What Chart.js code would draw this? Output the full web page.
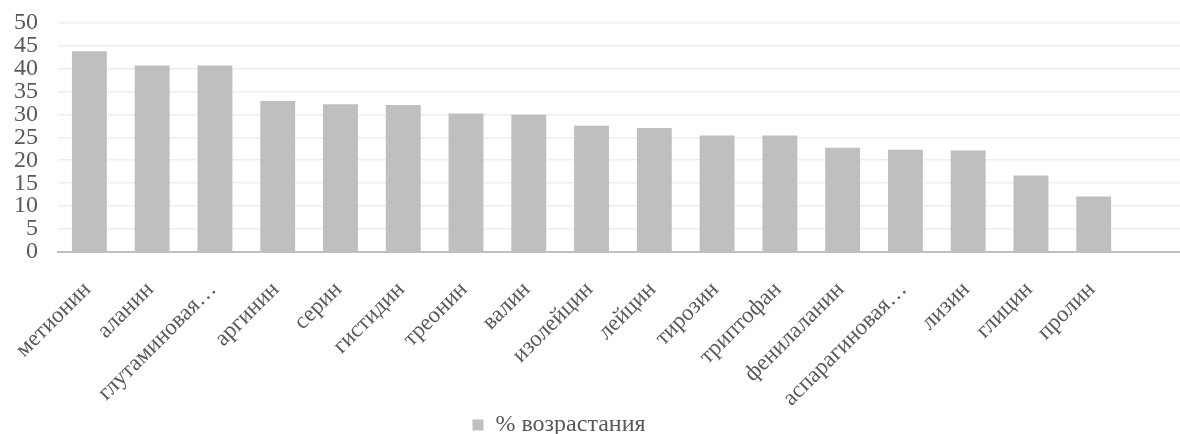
<!DOCTYPE html>
<html>
<head>
<meta charset="utf-8">
<script src="https://cdn.jsdelivr.net/npm/chart.js@4/dist/chart.umd.min.js"></script>
<style>
    html, body { margin: 0; padding: 0; background: #ffffff; overflow: hidden; }
    #chartBox { width: 1198px; height: 478px; margin-top: -12px; margin-left: -6px; }
</style>
</head>
<body>
<div id="chartBox"><canvas id="myChart"></canvas></div>
<script>
var names = ["метионин", "аланин", "глутаминовая…", "аргинин", "серин", "гистидин", "треонин", "валин",
    "изолейцин", "лейцин", "тирозин", "триптофан", "фенилаланин", "аспарагиновая…", "лизин", "глицин", "пролин", ""];
var growth = [43.7, 40.6, 40.6, 32.9, 32.2, 32.0, 30.2, 29.9, 27.5, 27.0, 25.4, 25.4, 22.7, 22.3, 22.1, 16.7, 12.1];
var yTicks = [0, 5, 10, 15, 20, 25, 30, 35, 40, 45, 50];

var serif = "'Liberation Serif', 'DejaVu Serif', serif";
var textGray = '#595959';

// legend: a bit left of centre and tucked up under the rotated labels
const legendPlace = {
    id: 'legendPlace',
    afterLayout(chart) {
        var lg = chart.legend;
        lg.left -= 34;
        lg.right -= 34;
        lg.top = 437 - 16;
        lg.bottom = lg.top + lg.height;
    }
};

const data = {
    labels: names,
    datasets: [{
        label: '% возрастания',
        data: growth,
        backgroundColor: 'rgb(191, 191, 191)',
        borderWidth: 0,
        barPercentage: 0.556,
        categoryPercentage: 1.0
    }]
};

const config = {
    type: 'bar',
    data,
    plugins: [legendPlace],
    options: {
        responsive: true,
        maintainAspectRatio: false,
        animation: false,
        layout: { padding: 0 },
        plugins: {
            tooltip: { enabled: false },
            legend: {
                position: 'bottom',
                labels: {
                    color: textGray,
                    font: { family: serif, size: 24 },
                    boxWidth: 11,
                    boxHeight: 11,
                    padding: 4
                }
            }
        },
        scales: {
            x: {
                grid: { display: false },
                border: { color: 'rgb(191, 191, 191)', width: 2 },
                ticks: {
                    color: textGray,
                    font: { family: serif, size: 23 },
                    minRotation: 45,
                    maxRotation: 45,
                    autoSkip: false,
                    padding: 16,
                    labelOffset: -2
                }
            },
            y: {
                min: 0,
                max: 50,
                afterBuildTicks: function(axis) {
                    axis.ticks = yTicks.map(function(v) { return { value: v }; });
                },
                grid: { color: '#eeeeee', lineWidth: 1.5, drawTicks: false },
                border: { display: false },
                ticks: {
                    color: textGray,
                    font: { family: serif, size: 24 },
                    autoSkip: false,
                    padding: 20
                }
            }
        }
    }
};

const myChart = new Chart(document.getElementById('myChart'), config);
</script>
</body>
</html>
